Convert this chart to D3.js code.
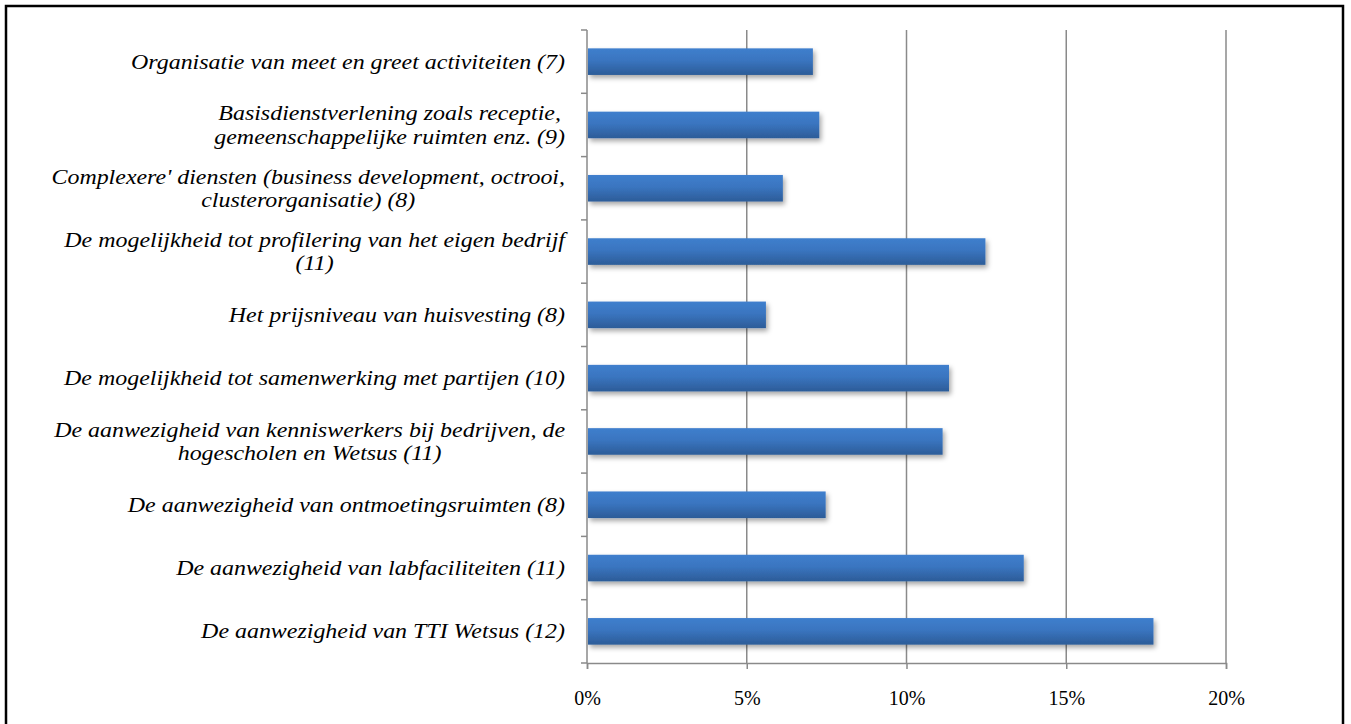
<!DOCTYPE html>
<html lang="nl">
<head>
<meta charset="UTF-8">
<title>Bar chart</title>
<script src="https://d3js.org/d3.v7.min.js"></script>
<style>
  body { margin: 0; background: #fff; }
  svg { display: block; }
  .lbl { font-family: "Liberation Serif", "Times New Roman", serif; font-style: italic; font-size: 21px; fill: #000; }
  .tick text { font-family: "Liberation Serif", "Times New Roman", serif; font-size: 20px; fill: #000; }
</style>
</head>
<body>
<svg width="1351" height="724"></svg>
<script>
// categories top to bottom, each split into its display lines
const categories = [
  ["Organisatie van meet en greet activiteiten (7)"],
  ["Basisdienstverlening zoals receptie,", "gemeenschappelijke ruimten  enz. (9)"],
  ["Complexere' diensten (business development, octrooi,", "clusterorganisatie) (8)"],
  ["De mogelijkheid tot profilering van het eigen bedrijf", "(11)"],
  ["Het prijsniveau van huisvesting (8)"],
  ["De mogelijkheid tot samenwerking met partijen (10)"],
  ["De aanwezigheid van kenniswerkers bij bedrijven, de", "hogescholen en Wetsus (11)"],
  ["De aanwezigheid van ontmoetingsruimten (8)"],
  ["De aanwezigheid van labfaciliteiten (11)"],
  ["De aanwezigheid van TTI Wetsus (12)"]
];
const values = [0.0707, 0.0727, 0.0613, 0.1247, 0.0560, 0.1133, 0.1113, 0.0747, 0.1367, 0.1773];
const xTicks = [0, 0.05, 0.10, 0.15, 0.20];

const svg = d3.select("svg");
const plotL = 587, plotR = 1226, plotT = 30, plotB = 663;

// outer frame
svg.append("rect").attr("x", 6).attr("y", 6).attr("width", 1337).attr("height", 730)
  .attr("fill", "none").attr("stroke", "#000").attr("stroke-width", 2.5);

const defs = svg.append("defs");
const grad = defs.append("linearGradient").attr("id", "barGrad")
  .attr("x1", 0).attr("y1", 0).attr("x2", 0).attr("y2", 1);
grad.append("stop").attr("offset", "0%").attr("stop-color", "#3f7fcd");
grad.append("stop").attr("offset", "45%").attr("stop-color", "#3a75c0");
grad.append("stop").attr("offset", "100%").attr("stop-color", "#2c5c98");
const f = defs.append("filter").attr("id", "shadow")
  .attr("x", "-5%").attr("y", "-30%").attr("width", "115%").attr("height", "180%");
f.append("feDropShadow").attr("dx", 2).attr("dy", 3).attr("stdDeviation", 2.5)
  .attr("flood-color", "#000").attr("flood-opacity", 0.35);

const x = d3.scaleLinear().domain([0, 0.20]).range([plotL, plotR]);
const y = d3.scaleBand().domain(d3.range(categories.length)).range([plotT, plotB]).paddingInner(0.58).paddingOuter(0.29);
const yBand = d3.scaleBand().domain(d3.range(categories.length)).range([plotT, plotB]);

// vertical gridlines
svg.append("g").selectAll("line").data(xTicks.slice(1)).join("line")
  .attr("x1", d => x(d)).attr("x2", d => x(d))
  .attr("y1", plotT).attr("y2", plotB)
  .attr("stroke", "#8a8a8a").attr("stroke-width", 1.5);

// bars
svg.append("g").selectAll("rect").data(values).join("rect")
  .attr("x", x(0) + 1)
  .attr("y", (d, i) => y(i))
  .attr("width", d => x(d) - x(0) - 1)
  .attr("height", y.bandwidth())
  .attr("fill", "url(#barGrad)")
  .attr("filter", "url(#shadow)");

// x axis
const xAxis = svg.append("g").attr("transform", `translate(0,${plotB})`)
  .call(d3.axisBottom(x).tickValues(xTicks).tickFormat(d3.format(".0%")).tickSize(6).tickPadding(22));
xAxis.select(".domain").attr("stroke", "#8a8a8a").attr("stroke-width", 1.5);
xAxis.selectAll(".tick line").attr("stroke", "#8a8a8a").attr("stroke-width", 1.5);

// y axis line with category separators
const yAxis = svg.append("g");
yAxis.append("line").attr("x1", plotL).attr("x2", plotL).attr("y1", plotT).attr("y2", plotB)
  .attr("stroke", "#8a8a8a").attr("stroke-width", 1.5);
yAxis.selectAll("line.sep").data(d3.range(categories.length + 1)).join("line")
  .attr("class", "sep")
  .attr("x1", plotL - 6).attr("x2", plotL)
  .attr("y1", d => plotT + d * yBand.bandwidth()).attr("y2", d => plotT + d * yBand.bandwidth())
  .attr("stroke", "#8a8a8a").attr("stroke-width", 1.5);

// category labels (source font is a little wider than Times, so stretch horizontally)
const lineH = 23.5, stretch = 1.14;
const lbl = svg.append("g").selectAll("g").data(categories).join("g")
  .attr("transform", (d, i) => `translate(565,${yBand(i) + yBand.bandwidth() / 2 - (d.length - 1) * lineH / 2 + 7}) scale(${stretch},1)`)
  .append("text")
  .attr("class", "lbl")
  .attr("text-anchor", "middle");
lbl.each(function(d) {
  const t = d3.select(this);
  // measure widest line so the block is right aligned and lines centred within it
  const tmp = t.append("tspan");
  let w = 0;
  d.forEach(s => { tmp.text(s); w = Math.max(w, tmp.node().getComputedTextLength()); });
  tmp.remove();
  d.forEach((s, j) => {
    t.append("tspan").attr("x", -w / 2).attr("dy", j === 0 ? 0 : lineH).text(s);
  });
});
</script>
</body>
</html>
